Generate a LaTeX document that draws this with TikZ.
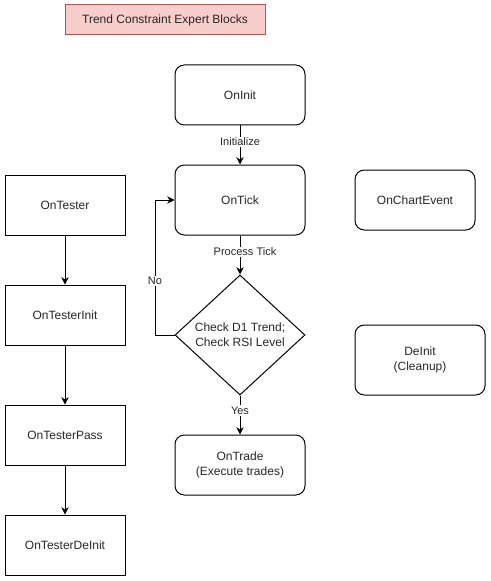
\documentclass[tikz,border=0pt]{standalone}
\usepackage{fontspec}
\setmainfont{Liberation Sans}
\usetikzlibrary{shapes.geometric,arrows.meta}
\definecolor{rosetitre}{HTML}{F8CECC}
\definecolor{bordtitre}{HTML}{B85450}
\tikzset{
  bloc/.style={draw,line width=0.75pt,align=center,inner sep=0pt,
    font=\fontsize{9}{11}\selectfont,text=black!85},
  arrondi/.style={bloc,rounded corners=7pt},
  fleche/.style={draw,line width=0.75pt,-{Stealth[length=5.5pt,width=5.5pt]}},
  etiq/.style={fill=white,inner sep=1pt,font=\fontsize{8.25}{10}\selectfont,text=black!85}
}
\begin{document}
\begin{tikzpicture}[x=0.75pt,y=-0.75pt]
  \useasboundingbox (0,0) rectangle (491,581);
  \node[bloc,fill=rosetitre,draw=bordtitre,minimum width=150pt,minimum height=22.5pt] (titre) at (165,20) {Trend Constraint Expert Blocks}; %Titre
  \node[arrondi,minimum width=97.5pt,minimum height=45pt] (oninit) at (240,95) {OnInit};
  \node[arrondi,minimum width=97.5pt,minimum height=52.5pt] (ontick) at (240,200) {OnTick};
  \node[arrondi,minimum width=90pt,minimum height=45pt] (onchart) at (415,200) {OnChartEvent};
  \node[bloc,shape=diamond,aspect=1.083,minimum width=97.5pt,minimum height=90pt] (check) at (240,335) {Check D1 Trend;\\Check RSI Level}; %Losange
  \node[arrondi,minimum width=97.5pt,minimum height=45pt] (ontrade) at (240,465) {OnTrade\\(Execute trades)};
  \node[arrondi,minimum width=97.5pt,minimum height=52.5pt] (deinit) at (420,360) {DeInit\\(Cleanup)};
  \node[bloc,minimum width=90pt,minimum height=45pt] (ontester) at (65,205) {OnTester}; %Colonne testeur
  \node[bloc,minimum width=90pt,minimum height=45pt] (ontesterinit) at (65,315) {OnTesterInit};
  \node[bloc,minimum width=90pt,minimum height=45pt] (ontesterpass) at (65,435) {OnTesterPass};
  \node[bloc,minimum width=90pt,minimum height=45pt] (ontesterdeinit) at (65,545) {OnTesterDeInit};
  \draw[fleche] (oninit) -- node[etiq,pos=0.42]{Initialize} (ontick);
  \draw[fleche] (ontick) -- node[etiq,pos=0.42,xshift=3.75pt]{Process Tick} (check);
  \draw[fleche] (check) -- node[etiq,pos=0.38]{Yes} (ontrade);
  \coordinate (coin) at (155,200);
  \draw[fleche] (check.west) -| node[etiq,pos=0.7]{No} (coin) -- (ontick.west); %Boucle
  \draw[fleche] (ontester) -- (ontesterinit);
  \draw[fleche] (ontesterinit) -- (ontesterpass);
  \draw[fleche] (ontesterpass) -- (ontesterdeinit);
\end{tikzpicture}
\end{document}
